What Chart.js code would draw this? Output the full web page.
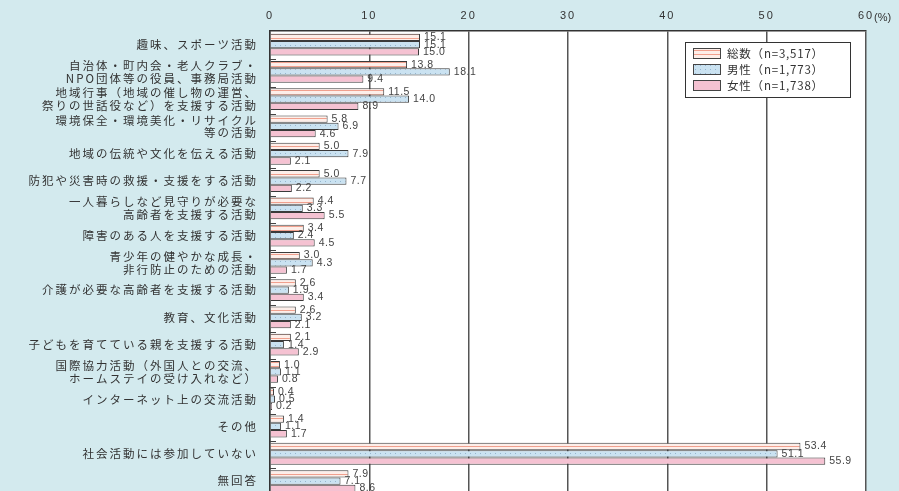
<!DOCTYPE html>
<html>
<head>
<meta charset="utf-8">
<script src="https://cdn.jsdelivr.net/npm/chart.js@4/dist/chart.umd.min.js"></script>
<style>
  html, body { margin: 0; padding: 0; overflow: hidden; background: #d3eaee; }
  #wrap { width: 899px; height: 505px; position: relative; }
</style>
</head>
<body>
<div id="wrap"><canvas id="chart"></canvas></div>
<script>
// Datos del gráfico
const categories = [
    '趣味、スポーツ活動',
    ['自治体・町内会・老人クラブ・', 'NPO団体等の役員、事務局活動'],
    ['地域行事（地域の催し物の運営、', '祭りの世話役など）を支援する活動'],
    ['環境保全・環境美化・リサイクル', '等の活動'],
    '地域の伝統や文化を伝える活動',
    '防犯や災害時の救援・支援をする活動',
    ['一人暮らしなど見守りが必要な', '高齢者を支援する活動'],
    '障害のある人を支援する活動',
    ['青少年の健やかな成長・', '非行防止のための活動'],
    '介護が必要な高齢者を支援する活動',
    '教育、文化活動',
    '子どもを育てている親を支援する活動',
    ['国際協力活動（外国人との交流、', 'ホームステイの受け入れなど）'],
    'インターネット上の交流活動',
    'その他',
    '社会活動には参加していない',
    '無回答'
];
const seriesNames = ['総数（n=3,517）', '男性（n=1,773）', '女性（n=1,738）'];
const totalValues = [15.1, 13.8, 11.5, 5.8, 5.0, 5.0, 4.4, 3.4, 3.0, 2.6, 2.6, 2.1, 1.0, 0.4, 1.4, 53.4, 7.9];
const maleValues = [15.1, 18.1, 14.0, 6.9, 7.9, 7.7, 3.3, 2.4, 4.3, 1.9, 3.2, 1.4, 1.1, 0.5, 1.1, 51.1, 7.1];
const femaleValues = [15.0, 9.4, 8.9, 4.6, 2.1, 2.2, 5.5, 4.5, 1.7, 3.4, 2.1, 2.9, 0.8, 0.2, 1.7, 55.9, 8.6];
const xTicks = [0, 10, 20, 30, 40, 50, 60];

// Patrones de relleno
function makePattern(w, h, draw) {
    const c = document.createElement('canvas');
    c.width = w; c.height = h;
    const g = c.getContext('2d');
    draw(g);
    return c.getContext('2d').createPattern(c, 'repeat');
}
const stripeFill = makePattern(4, 4, g => {
    g.fillStyle = '#fdeee9'; g.fillRect(0, 0, 4, 4);
    g.fillStyle = '#f0a08e'; g.fillRect(0, 2, 4, 1);
});
const dotFill = makePattern(5, 4, g => {
    g.fillStyle = '#cae2f1'; g.fillRect(0, 0, 5, 4);
    g.fillStyle = '#95b6cf'; g.fillRect(0, 1, 1, 1);
});
const pinkFill = '#f5c2d2';
const fills = [stripeFill, dotFill, pinkFill];

const bgPlugin = {
    id: 'bg',
    beforeDraw(chart) {
        const { ctx, chartArea: a } = chart;
        ctx.save();
        ctx.fillStyle = '#d3eaee';
        ctx.fillRect(0, 0, chart.width, chart.height);
        ctx.fillStyle = '#ffffff';
        ctx.fillRect(a.left, a.top, a.right - a.left, a.bottom - a.top);
        ctx.restore();
        ctx.letterSpacing = '2px';
    },
    beforeDatasetsDraw(chart) {
        chart.ctx.letterSpacing = '0px';
    },
    afterDatasetsDraw(chart) {
        const { ctx, chartArea: a } = chart;
        ctx.save();
        // marcas pequeñas entre grupos
        ctx.strokeStyle = '#444';
        ctx.lineWidth = 1;
        const step = (a.bottom - a.top) / categories.length;
        for (let i = 1; i < categories.length; i++) {
            const yy = Math.round(a.top + i * step) + 1.5;
            ctx.beginPath();
            ctx.moveTo(a.left, yy);
            ctx.lineTo(a.left + 6, yy);
            ctx.stroke();
        }
        // etiquetas de valores
        ctx.font = '10.5px "Liberation Sans", sans-serif';
        ctx.letterSpacing = '0.5px';
        ctx.fillStyle = '#444';
        ctx.textAlign = 'left';
        ctx.textBaseline = 'middle';
        chart.data.datasets.forEach((ds, di) => {
            chart.getDatasetMeta(di).data.forEach((bar, i) => {
                ctx.fillText(ds.data[i].toFixed(1), bar.x + 4, bar.y);
            });
        });
        ctx.restore();
    },
    afterDraw(chart) {
        const { ctx, chartArea: a } = chart;
        ctx.save();
        ctx.letterSpacing = '0px';
        ctx.font = '11px "Liberation Sans", sans-serif';
        ctx.fillStyle = '#333';
        ctx.textAlign = 'left';
        ctx.textBaseline = 'middle';
        ctx.fillText('(%)', a.right + 8, 18);
        // leyenda
        const lx = 685, ly = 42, lw = 165, lh = 55;
        ctx.fillStyle = '#ffffff';
        ctx.fillRect(lx, ly, lw, lh);
        ctx.strokeStyle = '#333';
        ctx.lineWidth = 1;
        ctx.strokeRect(lx + 0.5, ly + 0.5, lw, lh);
        ctx.font = '11.5px "Noto Sans CJK JP", sans-serif';
        ctx.letterSpacing = '0.8px';
        seriesNames.forEach((name, i) => {
            const yy = ly + 11 + i * 16;
            ctx.fillStyle = fills[i];
            ctx.fillRect(lx + 8, yy - 5, 27, 10);
            ctx.strokeStyle = '#444';
            ctx.strokeRect(lx + 8.5, yy - 4.5, 27, 10);
            ctx.fillStyle = '#333';
            ctx.fillText(name, lx + 42, yy + 1);
        });
        ctx.restore();
    }
};

const ctx = document.getElementById('chart').getContext('2d');
const chart = new Chart(ctx, {
    type: 'bar',
    data: {
        labels: categories,
        datasets: [totalValues, maleValues, femaleValues].map((vals, i) => ({
            label: seriesNames[i],
            data: vals,
            backgroundColor: fills[i],
            borderColor: '#3a3a3a',
            borderWidth: 1,
            borderSkipped: 'start',
            categoryPercentage: 0.8,
            barPercentage: 1.0
        }))
    },
    options: {
        indexAxis: 'y',
        responsive: true,
        maintainAspectRatio: false,
        animation: false,
        devicePixelRatio: 1,
        layout: { padding: { left: 0, right: 33, top: 0, bottom: 2 } },
        plugins: {
            legend: { display: false },
            tooltip: { enabled: false }
        },
        scales: {
            x: {
                position: 'top',
                min: 0,
                max: 60,
                afterFit: s => { s.height = 31; },
                afterBuildTicks: s => { s.ticks = xTicks.map(v => ({ value: v })); },
                ticks: {
                    padding: 8,
                    color: '#333',
                    font: { size: 11, family: '"Liberation Sans", sans-serif' }
                },
                grid: { color: '#555', lineWidth: 1.5, drawTicks: false },
                border: { display: true, color: '#333', width: 1.5 }
            },
            y: {
                afterFit: s => { s.width = 270; },
                ticks: {
                    autoSkip: false,
                    padding: 4,
                    color: '#333',
                    font: { size: 11.5, family: '"Noto Sans CJK JP", sans-serif', lineHeight: 1.1 }
                },
                grid: { display: false },
                border: { display: true, color: '#333', width: 1.5 }
            }
        }
    },
    plugins: [bgPlugin]
});
</script>
</body>
</html>
